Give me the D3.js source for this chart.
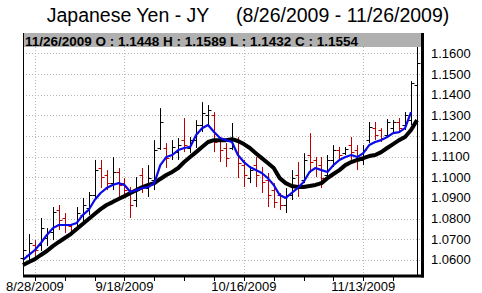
<!DOCTYPE html>
<html>
<head>
<style>
  body { margin: 0; background: #fff; }
  text { font-family: Arial, "Liberation Sans", sans-serif; fill: #000; }
</style>
<script src="https://cdn.jsdelivr.net/npm/d3@7/dist/d3.min.js"></script>
</head>
<body>
<svg width="482" height="293"></svg>
<script>
var dates = ["8/26/2009","8/27/2009","8/28/2009","8/31/2009",
  "9/1/2009","9/2/2009","9/3/2009","9/4/2009","9/7/2009","9/8/2009","9/9/2009","9/10/2009","9/11/2009",
  "9/14/2009","9/15/2009","9/16/2009","9/17/2009","9/18/2009","9/21/2009","9/22/2009","9/23/2009","9/24/2009","9/25/2009",
  "9/28/2009","9/29/2009","9/30/2009",
  "10/1/2009","10/2/2009","10/5/2009","10/6/2009","10/7/2009","10/8/2009","10/9/2009","10/12/2009","10/13/2009","10/14/2009",
  "10/15/2009","10/16/2009","10/19/2009","10/20/2009","10/21/2009","10/22/2009","10/23/2009","10/26/2009","10/27/2009",
  "10/28/2009","10/29/2009","10/30/2009",
  "11/2/2009","11/3/2009","11/4/2009","11/5/2009","11/6/2009","11/9/2009","11/10/2009","11/11/2009","11/12/2009","11/13/2009",
  "11/16/2009","11/17/2009","11/18/2009","11/19/2009","11/20/2009","11/23/2009","11/24/2009","11/25/2009","11/26/2009"];

var opens = [1.0609,1.0624,1.0672,1.0672,1.0706,1.0735,1.0842,1.0803,1.0764,1.0754,1.0817,1.0851,1.0914,
  1.1045,1.1011,1.0972,1.1026,1.0972,1.0924,1.0890,1.1011,1.0948,1.0987,1.1142,1.1142,1.1108,
  1.1122,1.1180,1.1142,1.1180,1.1253,1.1301,1.1301,1.1180,1.1142,1.1142,1.1180,1.1059,1.0996,1.1059,1.1026,
  1.0987,1.0938,1.0914,1.0866,1.0914,1.1011,1.0987,
  1.1108,1.1084,1.1059,1.1011,1.1084,1.1132,1.1117,1.1156,1.1132,1.1084,
  1.1180,1.1238,1.1229,1.1205,1.1238,1.1268,1.1253,1.1277,1.1448];
var highs = [1.0672,1.0725,1.0696,1.0803,1.0754,1.0856,1.0866,1.0827,1.0769,1.0856,1.0900,1.0929,1.1084,
  1.1084,1.1035,1.1098,1.1045,1.0996,1.0953,1.1001,1.1045,1.1059,1.1180,1.1335,1.1166,1.1180,
  1.1190,1.1287,1.1195,1.1277,1.1364,1.1350,1.1316,1.1195,1.1166,1.1263,1.1195,1.1084,1.1050,1.1098,1.1050,
  1.1021,1.0972,1.0924,1.0948,1.1035,1.1074,1.1117,
  1.1214,1.1098,1.1098,1.1108,1.1156,1.1147,1.1147,1.1195,1.1156,1.1156,
  1.1268,1.1268,1.1238,1.1282,1.1277,1.1287,1.1316,1.1466,1.1589];
var lows = [1.0575,1.0595,1.0609,1.0643,1.0667,1.0696,1.0745,1.0730,1.0721,1.0745,1.0783,1.0817,1.0890,
  1.0948,1.0938,1.0938,1.0890,1.0905,1.0803,1.0856,1.0924,1.0905,1.0938,1.1132,1.1045,1.1084,
  1.1084,1.1122,1.1117,1.1142,1.1219,1.1253,1.1122,1.1074,1.1050,1.1132,1.0996,1.0953,1.0972,1.0953,1.0924,
  1.0856,1.0851,1.0842,1.0827,1.0890,1.0905,1.0972,
  1.1021,1.1001,1.0948,1.1001,1.1050,1.1084,1.1108,1.1084,1.1035,1.1059,
  1.1166,1.1180,1.1171,1.1195,1.1219,1.1219,1.1229,1.1253,1.1432];
var closes = [1.0648,1.0682,1.0648,1.0754,1.0735,1.0832,1.0793,1.0769,1.0735,1.0827,1.0866,1.0914,1.1035,
  1.1001,1.0972,1.1026,1.0963,1.0938,1.0866,1.0938,1.0963,1.0996,1.1132,1.1268,1.1093,1.1147,
  1.1156,1.1156,1.1180,1.1253,1.1311,1.1326,1.1171,1.1132,1.1093,1.1180,1.1069,1.1011,1.1035,1.1011,1.0977,
  1.0914,1.0880,1.0866,1.0914,1.0996,1.0963,1.1084,
  1.1074,1.1045,1.0996,1.1084,1.1132,1.1108,1.1137,1.1122,1.1084,1.1132,
  1.1243,1.1205,1.1190,1.1268,1.1268,1.1238,1.1301,1.1456,1.1554];

// short moving average (blue), no value on the last day
var maShort = [1.0600,1.0624,1.0648,1.0682,1.0721,1.0754,1.0769,1.0769,1.0769,1.0779,1.0817,1.0842,1.0890,
  1.0924,1.0948,1.0963,1.0972,1.0963,1.0929,1.0938,1.0948,1.0953,1.0972,1.1059,1.1098,1.1108,
  1.1132,1.1142,1.1147,1.1205,1.1238,1.1253,1.1219,1.1190,1.1180,1.1171,1.1108,1.1074,1.1050,1.1035,1.1021,
  1.0996,1.0963,1.0914,1.0900,1.0924,1.0948,1.0977,
  1.1026,1.1045,1.1035,1.1026,1.1059,1.1084,1.1098,1.1108,1.1098,1.1117,
  1.1156,1.1171,1.1180,1.1195,1.1214,1.1219,1.1238,1.1316,null];
// long moving average (black)
var maLong = [1.0575,1.0590,1.0604,1.0624,1.0643,1.0667,1.0687,1.0706,1.0725,1.0750,1.0774,1.0798,1.0822,
  1.0846,1.0866,1.0880,1.0895,1.0909,1.0924,1.0938,1.0953,1.0963,1.0972,1.0992,1.1011,1.1026,
  1.1045,1.1074,1.1098,1.1122,1.1147,1.1171,1.1180,1.1180,1.1180,1.1185,1.1176,1.1161,1.1142,1.1117,1.1093,
  1.1069,1.1045,1.0996,1.0972,1.0958,1.0953,1.0953,
  1.0958,1.0963,1.0972,1.0996,1.1016,1.1035,1.1059,1.1074,1.1084,1.1093,
  1.1103,1.1108,1.1122,1.1142,1.1161,1.1180,1.1195,1.1229,1.1277];

var yTicks = [1.06,1.07,1.08,1.09,1.10,1.11,1.12,1.13,1.14,1.15,1.16];
var labelDates = ["8/28/2009","9/18/2009","10/16/2009","11/13/2009"];
var weekTicks = ["8/28/2009","9/4/2009","9/11/2009","9/18/2009","9/25/2009","10/2/2009","10/9/2009",
  "10/16/2009","10/23/2009","10/30/2009","11/6/2009","11/13/2009","11/20/2009"];

var svg = d3.select("svg");
var plotLeft = 23, plotRight = 421, plotTop = 47, plotBottom = 275;

var x = d3.scalePoint().domain(dates).range([23, 417]);
var y = d3.scaleLinear().domain([1.0527, 1.1631]).range([plotBottom, plotTop]);

svg.append("text")
  .attr("x", 248).attr("y", 22)
  .attr("text-anchor", "middle")
  .style("font-size", "19.5px")
  .style("white-space", "pre")
  .text("Japanese Yen - JY     (8/26/2009 - 11/26/2009)");

// grid
var grid = svg.append("g").attr("stroke", "#b8b8b8").attr("stroke-dasharray", "1,2");
grid.selectAll(".h").data(yTicks).enter().append("line")
  .attr("x1", plotLeft).attr("x2", plotRight)
  .attr("y1", function (d) { return Math.round(y(d)) + 0.5; })
  .attr("y2", function (d) { return Math.round(y(d)) + 0.5; });
grid.selectAll(".v").data(labelDates).enter().append("line")
  .attr("x1", function (d) { return Math.round(x(d)) + 0.5; })
  .attr("x2", function (d) { return Math.round(x(d)) + 0.5; })
  .attr("y1", plotTop).attr("y2", plotBottom);

// OHLC bars
var bars = svg.append("g").selectAll("g").data(dates).enter().append("g")
  .attr("stroke", function (d, i) { return closes[i] >= opens[i] ? "#000" : "#c00000"; })
  .attr("transform", function (d) { return "translate(" + (Math.round(x(d)) + 0.5) + ",0)"; });
bars.append("line")
  .attr("y1", function (d, i) { return y(highs[i]); })
  .attr("y2", function (d, i) { return y(lows[i]); });
bars.append("line").attr("x1", -3).attr("x2", 0)
  .attr("y1", function (d, i) { return Math.round(y(opens[i])) + 0.5; })
  .attr("y2", function (d, i) { return Math.round(y(opens[i])) + 0.5; });
bars.append("line").attr("x1", 0).attr("x2", 3)
  .attr("y1", function (d, i) { return Math.round(y(closes[i])) + 0.5; })
  .attr("y2", function (d, i) { return Math.round(y(closes[i])) + 0.5; });

// moving averages
var lineLong = d3.line()
  .x(function (d, i) { return x(dates[i]); })
  .y(function (d) { return y(d); });
var lineShort = d3.line()
  .defined(function (d) { return d != null; })
  .x(function (d, i) { return x(dates[i]); })
  .y(function (d) { return y(d); });
svg.append("path").datum(maLong).attr("d", lineLong)
  .attr("fill", "none").attr("stroke", "#000").attr("stroke-width", 4)
  .attr("stroke-linejoin", "round");
svg.append("path").datum(maShort).attr("d", lineShort)
  .attr("fill", "none").attr("stroke", "#0a0ae6").attr("stroke-width", 2.2)
  .attr("stroke-linejoin", "round");

// cursor line on the last day
var last = dates[dates.length - 1];
svg.append("line")
  .attr("x1", Math.round(x(last)) + 0.5).attr("x2", Math.round(x(last)) + 0.5)
  .attr("y1", plotTop).attr("y2", plotBottom).attr("stroke", "#000");

// header bar
svg.append("rect").attr("x", plotLeft).attr("y", 33).attr("width", plotRight - plotLeft).attr("height", 14)
  .attr("fill", "#b0b0b0");
var n = dates.length - 1;
svg.append("text").attr("x", 25).attr("y", 45.5)
  .style("font-size", "13.5px").style("font-weight", "bold")
  .text(last + " O : " + opens[n].toFixed(4) + " H : " + highs[n].toFixed(4) +
    " L : " + lows[n].toFixed(4) + " C : " + closes[n].toFixed(4));

// frame
svg.append("line").attr("x1", plotLeft + 0.5).attr("x2", plotLeft + 0.5).attr("y1", 33).attr("y2", plotBottom)
  .attr("stroke", "#000");
svg.append("line").attr("x1", plotLeft).attr("x2", 424).attr("y1", plotBottom + 1).attr("y2", plotBottom + 1)
  .attr("stroke", "#000").attr("stroke-width", 3);
svg.append("line").attr("x1", 422.5).attr("x2", 422.5).attr("y1", 33).attr("y2", plotBottom + 2.5)
  .attr("stroke", "#000").attr("stroke-width", 3);

// week ticks under the axis
svg.append("g").attr("stroke", "#000").selectAll("line").data(weekTicks).enter().append("line")
  .attr("x1", function (d) { return Math.round(x(d)) + 0.5; })
  .attr("x2", function (d) { return Math.round(x(d)) + 0.5; })
  .attr("y1", plotBottom + 2).attr("y2", plotBottom + 6);

// right axis labels
svg.append("g").selectAll("text").data(yTicks).enter().append("text")
  .attr("x", 431).attr("y", function (d) { return y(d) + 4.5; })
  .style("font-size", "13px")
  .text(function (d) { return d.toFixed(4); });

// bottom labels
svg.append("g").selectAll("text").data(labelDates).enter().append("text")
  .attr("x", function (d) { return x(d); }).attr("y", 291)
  .attr("text-anchor", "middle").style("font-size", "13px")
  .text(function (d) { return d; });
</script>
</body>
</html>
